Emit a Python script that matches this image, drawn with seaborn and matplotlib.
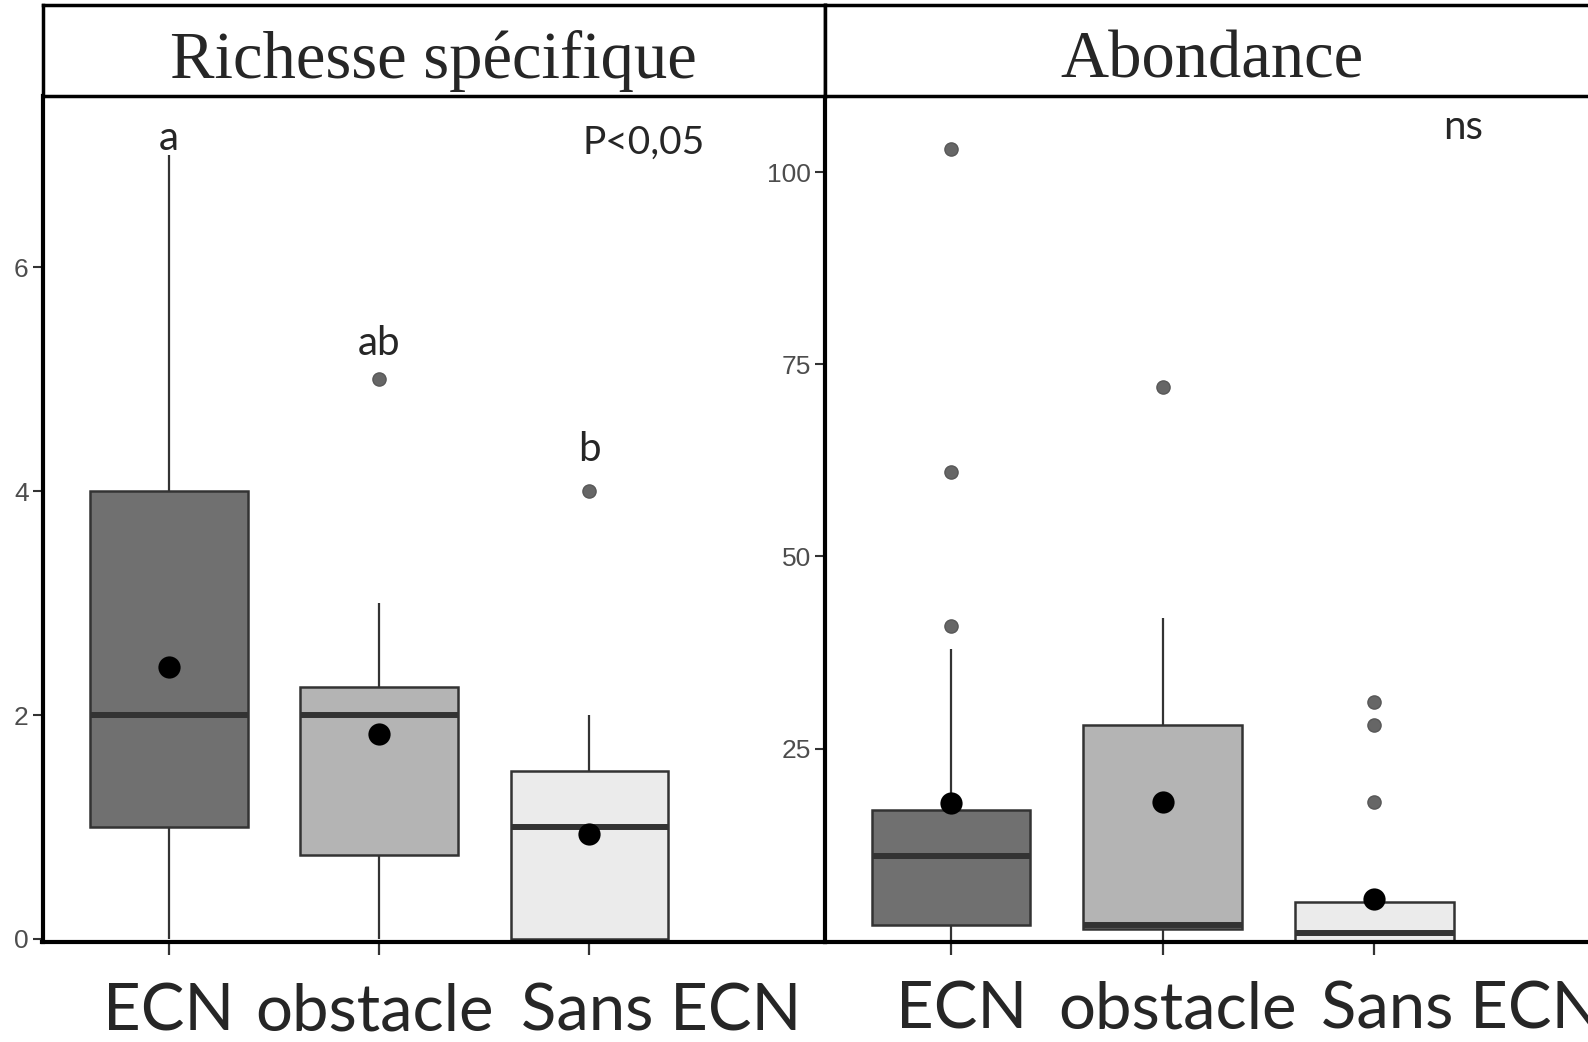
import numpy as np
import pandas as pd
import matplotlib
matplotlib.use("Agg")
import matplotlib.pyplot as plt
import matplotlib.transforms as mtrans
import seaborn as sns

# ---------------- data ----------------
categories = ["ECN", "obstacle", "Sans ECN"]
fill_colors = ["#707070", "#B4B4B4", "#EBEBEB"]

# Richesse spécifique (observations per group)
rich_ecn = [0, 0, 1, 1, 1, 1, 2, 2, 3, 4, 4, 4, 4, 7]
rich_obstacle = [0, 0, 0, 1, 2, 2, 2, 2, 2, 3, 3, 5]
rich_sans = [0, 0, 0, 0, 0, 0, 0, 1, 1, 1, 1, 2, 2, 2, 4]

# Abondance (observations per group)
abond_ecn = [0, 1, 1, 2, 2, 2, 2, 4, 6, 8, 11, 12, 13, 15, 16, 17, 20, 38, 41, 61, 103]
abond_obstacle = [0, 0, 1, 1, 2, 2, 2, 2, 24, 26, 26, 30, 40, 42, 72]
abond_sans = [0, 0, 0, 0, 0, 0, 0, 1, 1, 1, 1, 4, 5, 5, 5, 5, 5, 5, 18, 28, 31]

panel_titles = ["Richesse spécifique", "Abondance"]
rich_letters = ["a", "ab", "b"]
rich_letter_y = [7.05, 5.22, 4.27]
rich_test = "P<0,05"
abond_test = "ns"
rich_yticks = [0, 2, 4, 6]
abond_yticks = [25, 50, 75, 100]


def long_df(groups):
    rows = []
    for cat, vals in zip(categories, groups):
        for v in vals:
            rows.append({"cat": cat, "val": v})
    return pd.DataFrame(rows)


df_rich = long_df([rich_ecn, rich_obstacle, rich_sans])
df_abond = long_df([abond_ecn, abond_obstacle, abond_sans])

# ---------------- figure ----------------
sns.set_style("white")
plt.rcParams["font.family"] = ["Lato", "DejaVu Sans"]

W, H = 1588, 1042
fig = plt.figure(figsize=(W / 100, H / 100), dpi=100)
fig.patch.set_facecolor("white")

x_left, x_mid, x_right = 42.5, 825, 1588
y_top, y_strip, y_bottom = 5, 96, 942

def fx(px):
    return px / W

def fy(py):
    return 1 - py / H

ax1 = fig.add_axes([fx(x_left), fy(y_bottom), fx(x_mid - x_left), (y_bottom - y_strip) / H])
ax2 = fig.add_axes([fx(x_mid), fy(y_bottom), fx(x_right - x_mid), (y_bottom - y_strip) / H])
s1 = fig.add_axes([fx(x_left), fy(y_strip), fx(x_mid - x_left), (y_strip - y_top) / H])
s2 = fig.add_axes([fx(x_mid), fy(y_strip), fx(x_right - x_mid), (y_strip - y_top) / H])

line_col = "#333333"
tick_font = ["Liberation Sans", "DejaVu Sans"]

def draw_panel(ax, d, xlim, ylim, yticks):
    sns.boxplot(
        data=d, x="cat", y="val", hue="cat", order=categories, hue_order=categories,
        palette=fill_colors, saturation=1, width=0.75, linewidth=1.8,
        linecolor=line_col, showcaps=False, fliersize=9.5, legend=False, ax=ax,
        flierprops=dict(marker="o", markerfacecolor="#666666",
                        markeredgecolor="#585858", markeredgewidth=1.0),
        medianprops=dict(linewidth=4.3, color=line_col),
        whiskerprops=dict(linewidth=1.6, color=line_col),
    )
    sns.pointplot(
        data=d, x="cat", y="val", order=categories, estimator="mean",
        errorbar=None, linestyle="none", color="black", markers="o",
        markersize=16, markeredgewidth=0, ax=ax, zorder=10,
    )
    ax.set_xlabel("")
    ax.set_ylabel("")
    ax.set_xlim(*xlim)
    ax.set_ylim(*ylim)
    ax.set_yticks(yticks)
    ax.set_yticklabels([str(t) for t in yticks])
    for s in ["top", "right"]:
        ax.spines[s].set_visible(False)
    for s in ["left", "bottom"]:
        ax.spines[s].set_linewidth(3.0)
        ax.spines[s].set_color("black")
    ax.tick_params(axis="x", bottom=True, length=9, width=1.6, color=line_col,
                   labelbottom=False)
    ax.tick_params(axis="y", left=True, length=7, width=1.5, color=line_col,
                   labelsize=19, labelcolor="#4D4D4D", pad=3)
    for lab in ax.get_yticklabels():
        lab.set_fontfamily(tick_font)
        lab.set_fontsize(19)


draw_panel(ax1, df_rich, (-0.60, 3.12), (-0.027, 7.53), rich_yticks)
draw_panel(ax2, df_abond, (-0.596, 3.01), (-0.17, 109.9), abond_yticks)

# category labels (placed under the ticks as in the reference)
lab_font = ["Lato", "DejaVu Sans"]
for ax, xs, yb in [(ax1, [0, 0.98, 2.34], -0.105), (ax2, [0.05, 1.07, 2.41], -0.102)]:
    tr = mtrans.blended_transform_factory(ax.transData, ax.transAxes)
    for cat, x in zip(categories, xs):
        ax.text(x, yb, cat, transform=tr, ha="center", va="baseline",
                fontsize=47, family=lab_font, clip_on=False)

# annotations
for i, (lt, ly) in enumerate(zip(rich_letters, rich_letter_y)):
    ax1.text(i, ly, lt, ha="center", va="baseline", fontsize=29, family=lab_font)
ax1.text(2.26, 7.01, rich_test, ha="center", va="baseline", fontsize=28, family=lab_font)
ax2.text(2.42, 104.3, abond_test, ha="center", va="baseline", fontsize=29, family=lab_font)

# strips
for sax, title, xc in [(s1, panel_titles[0], 0.5), (s2, panel_titles[1], 0.507)]:
    sax.set_xticks([])
    sax.set_yticks([])
    sax.set_facecolor("white")
    for s in sax.spines.values():
        s.set_linewidth(2.5)
        s.set_color("black")
    sax.text(xc, 0.2, title, transform=sax.transAxes, ha="center", va="baseline",
             fontsize=48, family=["Liberation Serif", "DejaVu Serif"])
s2.spines["right"].set_visible(False)

fig.savefig("out.png", dpi=100, facecolor="white")
